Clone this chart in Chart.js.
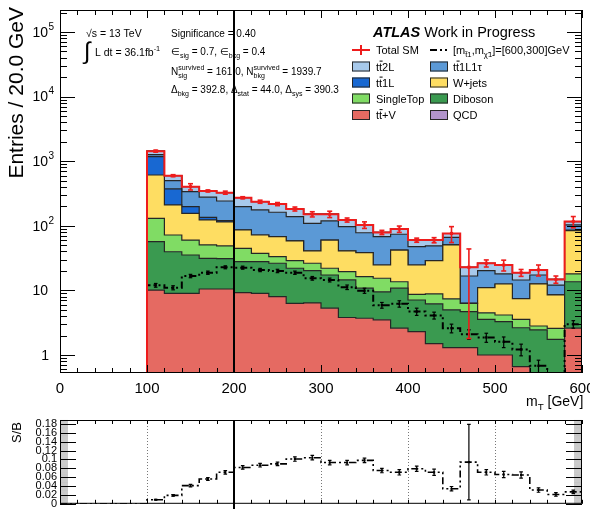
<!DOCTYPE html>
<html>
<head>
<meta charset="utf-8">
<title>mT stack</title>
<script src="https://cdn.jsdelivr.net/npm/chart.js@4.4.1/dist/chart.umd.min.js"></script>
<style>
body { margin: 0; background: #ffffff; }
#wrap { position: relative; width: 590px; height: 509px; overflow: hidden; }
#wrap canvas { position: absolute; left: 0; }
</style>
</head>
<body>
<div id="wrap">
<canvas id="mainChart" width="590" height="410" style="top:0px"></canvas>
<canvas id="ratioChart" width="590" height="99" style="top:410px"></canvas>
</div>
<script>
// bin edges of the filled region, 20 GeV bins
var binEdges = [100, 120, 140, 160, 180, 200, 220, 240, 260, 280, 300, 320, 340, 360, 380, 400, 420, 440, 460, 480, 500, 520, 540, 560, 580, 600];

// backgrounds, entries per bin
var ttV       = [10.1, 9.0, 9.0, 10.5, 10.5, 9.2, 9.0, 8.0, 6.3, 6.4, 5.3, 3.8, 3.7, 3.5, 2.6, 2.3, 1.5, 1.3, 1.3, 1.0, 1.0, 0.66, 0.4, 0.3, 2.6];
var diboson   = [46.6, 30.6, 26.3, 20.9, 20.5, 18.6, 18.8, 18.3, 15.7, 13.8, 12.0, 10.7, 7.1, 6.0, 8.2, 4.8, 4.7, 3.7, 3.4, 2.55, 2.28, 1.98, 2.04, 1.45, 11.0];
var singleTop = [73.3, 32.4, 24.7, 19.1, 17.7, 17.0, 9.7, 6.9, 6.8, 6.1, 4.7, 5.0, 5.5, 5.9, 2.8, 1.6, 2.6, 2.4, 1.6, 0.95, 0.88, 0.93, 0.37, 0.84, 4.4];
var wjets     = [481, 138, 96, 72.5, 65.9, 41.2, 34.5, 34.8, 29.4, 14.7, 38, 21.5, 22.1, 9.3, 28.4, 16.0, 20.0, 43.1, 0, 6.5, 8.4, 3.9, 9.8, 5.9, 66];
var tt1L      = [563, 162, 42, 12, 5.4, 0.8, 0, 0, 0, 0, 0, 0, 0, 0, 0, 0, 0, 0, 0, 0, 0, 0, 0, 0, 1.5];
var tt1L1tau  = [88, 128, 139, 142, 122, 111, 104, 94, 80, 68, 59, 56, 39.6, 43.3, 32, 22.8, 20.2, 15.5, 10.4, 9.2, 5.4, 7.0, 4.7, 3.6, 17.5];
var tt2L      = [168, 97, 66, 69, 84, 74, 60, 55, 44, 42, 32, 26, 25, 11, 15, 12.5, 11, 10, 6.1, 6.1, 6.7, 4.3, 3.4, 2.7, 13];
var qcd       = [0, 0, 0, 0, 0, 0, 0, 0, 0, 0, 0, 0, 0, 0, 0, 0, 0, 0, 0, 0, 0, 0, 0, 0, 0];
var totalErr  = [51, 21, 45, 12, 18, 10, 13, 12, 13, 14, 17, 9, 12, 6, 10, 4.4, 5.5, 21, 21, 3.3, 4.7, 2.3, 4, 1.9, 23];

// signal [600,300]
var signal    = [12, 11, 16.7, 18.8, 22.8, 22.5, 20.7, 20, 18.8, 15.4, 14.5, 11.2, 9.9, 5.9, 6.2, 4.7, 4.1, 2.6, 2.1, 1.87, 1.6, 1.22, 0.68, 0.3, 3.0];
var signalErr = [0.8, 0.8, 1.0, 1.1, 1.2, 1.2, 1.2, 1.2, 1.1, 1.0, 1.0, 0.9, 0.9, 0.6, 0.7, 0.6, 0.5, 0.4, 0.35, 0.3, 0.3, 0.25, 0.15, 0.1, 0.4];

// S/B panel, full range 0-600
var ratioEdges = [0, 20, 40, 60, 80, 100, 120, 140, 160, 180, 200, 220, 240, 260, 280, 300, 320, 340, 360, 380, 400, 420, 440, 460, 480, 500, 520, 540, 560, 580, 600];
var ratio    = [0, 0, 0, 0, 0, 0.009, 0.019, 0.041, 0.056, 0.071, 0.082, 0.087, 0.090, 0.101, 0.104, 0.093, 0.093, 0.098, 0.075, 0.071, 0.079, 0.071, 0.034, 0.094, 0.071, 0.066, 0.065, 0.031, 0.021, 0.027];
var ratioErr = [0, 0, 0, 0, 0, 0.001, 0.002, 0.003, 0.003, 0.004, 0.004, 0.004, 0.004, 0.005, 0.005, 0.005, 0.005, 0.005, 0.005, 0.006, 0.006, 0.007, 0.005, 0.085, 0.006, 0.007, 0.007, 0.005, 0.004, 0.004];

// axes
var xTickLabels = [0, 100, 200, 300, 400, 500, 600];
var yTickPowers = [0, 1, 2, 3, 4, 5];
var ratioTickLabels = ['0', '0.02', '0.04', '0.06', '0.08', '0.1', '0.12', '0.14', '0.16', '0.18'];
var ratioGridX = [100, 300, 400, 500];
var cutValue = 200;
var yMin = 0.526, yMax = 2.19e5;
var ratioMax = 0.189;

var legendLabels = [['Total SM', 'signal'], ['tt\u03042L', 'tt\u03041L1\u03c4'], ['tt\u03041L', 'W+jets'], ['SingleTop', 'Diboson'], ['tt\u0304+V', 'QCD']];

var stackLayers = [ttV, diboson, singleTop, wjets, tt1L, tt1L1tau, tt2L, qcd];
var stackColors = ['#e56a62', '#3a9a50', '#80dc64', '#fedd62', '#1868d2', '#5b99d6', '#a7c9eb', '#b294cc'];
var legendColors = [[null, null], ['#a7c9eb', '#5b99d6'], ['#1868d2', '#fedd62'], ['#80dc64', '#3a9a50'], ['#e56a62', '#b294cc']];

var FONT = "'Liberation Sans', Arial, Helvetica, sans-serif";
function fnt(size, style) { return (style ? style + ' ' : '') + size + 'px ' + FONT; }

function histPoints(edges, vals, floor) {
    var pts = [];
    if (floor !== undefined) pts.push({x: edges[0], y: floor});
    for (var i = 0; i < vals.length; i++) {
        pts.push({x: edges[i], y: vals[i]});
        pts.push({x: edges[i + 1], y: vals[i]});
    }
    if (floor !== undefined) pts.push({x: edges[edges.length - 1], y: floor});
    return pts;
}

function errorPoints(edges, vals, errs, first, floor) {
    var pts = [];
    for (var i = first; i < vals.length; i++) {
        var c = (edges[i] + edges[i + 1]) / 2;
        var lo = vals[i] - errs[i];
        if (lo < floor) lo = floor;
        pts.push({x: c, y: lo}, {x: c, y: vals[i] + errs[i]}, {x: c, y: NaN});
    }
    return pts;
}

function centerPoints(edges, vals, first) {
    var pts = [];
    for (var i = first; i < vals.length; i++) {
        pts.push({x: (edges[i] + edges[i + 1]) / 2, y: vals[i]});
    }
    return pts;
}

// cumulative stack, bottom to top
var cumul = [];
var run = binEdges.slice(1).map(function() { return 0; });
stackLayers.forEach(function(arr) {
    run = run.map(function(v, i) { return v + arr[i]; });
    cumul.push(run);
});
var totalSM = cumul[cumul.length - 1];

var mainSets = [];
cumul.forEach(function(c, k) {
    mainSets.push({
        data: histPoints(binEdges, c, 1e-3),
        backgroundColor: stackColors[k],
        borderColor: '#262626',
        borderWidth: 1.2,
        fill: k === 0 ? 'start' : '-1',
        pointRadius: 0,
        order: 10
    });
});
var sigDash = [7, 3, 2, 3, 2, 3];
mainSets.push({
    data: histPoints(binEdges, signal, 1e-3),
    borderColor: '#000', borderWidth: 2, borderDash: sigDash,
    fill: false, pointRadius: 0, order: 2
});
mainSets.push({
    data: errorPoints(binEdges, signal, signalErr, 0, 1e-3),
    borderColor: '#000', borderWidth: 1.2, fill: false,
    pointStyle: 'line', pointRadius: 1.8, pointBorderColor: '#000', pointBorderWidth: 1.2, order: 2
});
mainSets.push({
    data: centerPoints(binEdges, signal, 0),
    showLine: false, pointStyle: 'rect', pointRadius: 1.7,
    pointBackgroundColor: '#000', pointBorderColor: '#000', pointBorderWidth: 0, order: 2
});
mainSets.push({
    data: histPoints(binEdges, totalSM, 1e-3),
    borderColor: '#ee1c1c', borderWidth: 2, fill: false, pointRadius: 0, order: 0
});
mainSets.push({
    data: errorPoints(binEdges, totalSM, totalErr, 0, 1e-3),
    borderColor: '#ee1c1c', borderWidth: 1.6, fill: false,
    pointStyle: 'line', pointRadius: 2.5, pointBorderColor: '#ee1c1c', pointBorderWidth: 1.6, order: 0
});
mainSets.push({
    data: centerPoints(binEdges, totalSM, 0),
    showLine: false, pointStyle: 'rect', pointRadius: 2.2,
    pointBackgroundColor: '#ee1c1c', pointBorderColor: '#ee1c1c', pointBorderWidth: 0, order: 0
});

// text with sub/superscripts, pieces: [text, mode] mode '' | 'sub' | 'sup' | 'ss' (text = [sub, sup])
function drawPieces(ctx, x, y, pieces, size) {
    var small = size * 0.7;
    var cx = x;
    ctx.textAlign = 'left';
    ctx.textBaseline = 'alphabetic';
    pieces.forEach(function(p) {
        var t = p[0], m = p[1];
        if (m === 'ss') {
            ctx.font = fnt(small);
            ctx.fillText(t[1], cx, y - size * 0.5);
            ctx.fillText(t[0], cx, y + size * 0.3);
            cx += Math.max(ctx.measureText(t[0]).width, ctx.measureText(t[1]).width);
        } else if (m === 'sub') {
            ctx.font = fnt(small);
            ctx.fillText(t, cx, y + size * 0.3);
            cx += ctx.measureText(t).width;
        } else if (m === 'sup') {
            ctx.font = fnt(small);
            ctx.fillText(t, cx, y - size * 0.45);
            cx += ctx.measureText(t).width;
        } else {
            ctx.font = fnt(size);
            ctx.fillText(t, cx, y);
            cx += ctx.measureText(t).width;
        }
    });
    return cx;
}

function drawLabel(ctx, x, y, label, size) {
    ctx.font = fnt(size);
    ctx.textAlign = 'left';
    ctx.textBaseline = 'alphabetic';
    if (label.indexOf('tt\u0304') === 0) {
        var w = ctx.measureText('t').width;
        ctx.fillText('t', x, y);
        ctx.fillText('t', x + w, y);
        ctx.fillRect(x + w + 0.5, y - size * 0.9, w, 1);
        ctx.fillText(label.slice(3), x + 2 * w, y);
    } else {
        ctx.fillText(label, x, y);
    }
}

var mainDecor = {
    id: 'mainDecor',
    afterDatasetsDraw: function(chart) {
        var ctx = chart.ctx, a = chart.chartArea;
        var xs = chart.scales.x, ys = chart.scales.y;
        ctx.save();
        ctx.fillStyle = '#000';
        ctx.strokeStyle = '#000';

        // selection cut
        var xc = xs.getPixelForValue(cutValue);
        ctx.lineWidth = 2;
        ctx.beginPath(); ctx.moveTo(xc, a.top); ctx.lineTo(xc, a.bottom); ctx.stroke();

        // frame and ticks
        ctx.lineWidth = 1;
        ctx.strokeRect(a.left + 0.5, a.top + 0.5, a.right - a.left - 1, a.bottom - a.top - 1);
        ctx.beginPath();
        for (var v = 0; v <= 600; v += 20) {
            var px = Math.round(xs.getPixelForValue(v)) + 0.5;
            var len = (v % 100 === 0) ? 8 : 5;
            ctx.moveTo(px, a.bottom); ctx.lineTo(px, a.bottom - len);
            ctx.moveTo(px, a.top); ctx.lineTo(px, a.top + len);
        }
        for (var d = -1; d <= 5; d++) {
            for (var m = 1; m <= 9; m++) {
                var val = m * Math.pow(10, d);
                if (val < yMin || val > yMax) continue;
                var py = Math.round(ys.getPixelForValue(val)) + 0.5;
                var l2 = (m === 1) ? 15 : 7;
                ctx.moveTo(a.left, py); ctx.lineTo(a.left + l2, py);
                ctx.moveTo(a.right, py); ctx.lineTo(a.right - l2, py);
            }
        }
        ctx.stroke();

        // tick labels
        ctx.font = fnt(15);
        ctx.textAlign = 'center';
        ctx.textBaseline = 'alphabetic';
        xTickLabels.forEach(function(t) {
            ctx.fillText(String(t), xs.getPixelForValue(t), a.bottom + 19.5);
        });
        yTickPowers.forEach(function(p) {
            var py = ys.getPixelForValue(Math.pow(10, p));
            ctx.font = fnt(14);
            ctx.textAlign = 'right';
            ctx.textBaseline = 'middle';
            if (p === 0) {
                ctx.fillText('1', 49, py + 1);
            } else {
                ctx.fillText('10', 48, py + 1);
                if (p > 1) {
                    ctx.font = fnt(10);
                    ctx.textAlign = 'left';
                    ctx.fillText(String(p), 48.5, py - 5);
                }
            }
        });

        // axis titles
        drawPieces(ctx, 526, 406, [['m', ''], ['T', 'sub'], [' [GeV]', '']], 14);
        ctx.save();
        ctx.translate(17, 7);
        ctx.rotate(-Math.PI / 2);
        ctx.font = fnt(21);
        ctx.textAlign = 'right';
        ctx.textBaseline = 'middle';
        ctx.fillText('Entries / 20.0 GeV', 0, 0);
        ctx.restore();

        // info text
        drawPieces(ctx, 86, 37, [['\u221as = 13 TeV', '']], 10.5);
        ctx.font = fnt(24);
        ctx.textAlign = 'left';
        ctx.textBaseline = 'alphabetic';
        ctx.fillText('\u222b', 84, 59);
        drawPieces(ctx, 95, 56, [['L dt = 36.1fb', ''], ['-1', 'sup']], 10.5);
        drawPieces(ctx, 171, 37, [['Significance = 0.40', '']], 10);
        drawPieces(ctx, 171, 55, [['\u2208', ''], ['sig', 'sub'], [' = 0.7, \u2208', ''], ['bkg', 'sub'], [' = 0.4', '']], 10);
        drawPieces(ctx, 171, 75, [['N', ''], [['sig', 'survived'], 'ss'], [' = 161.0, N', ''], [['bkg', 'survived'], 'ss'], [' = 1939.7', '']], 10);
        drawPieces(ctx, 171, 93, [['\u0394', ''], ['bkg', 'sub'], [' = 392.8, \u0394', ''], ['stat', 'sub'], [' = 44.0, \u0394', ''], ['sys', 'sub'], [' = 390.3', '']], 10);

        // ATLAS label
        ctx.font = fnt(14.5, 'italic bold');
        ctx.textAlign = 'left';
        ctx.fillText('ATLAS', 373, 37);
        var wA = ctx.measureText('ATLAS').width;
        ctx.font = fnt(14.5);
        ctx.fillText('Work in Progress', 373 + wA + 4, 37);

        // legend
        var rowY = [50, 66.5, 82.5, 98.5, 115];
        var boxX = [352, 430], textX = [376, 453];
        for (var r = 0; r < legendLabels.length; r++) {
            for (var c = 0; c < 2; c++) {
                var y = rowY[r], bx = boxX[c];
                if (r === 0 && c === 0) {
                    ctx.strokeStyle = '#ee1c1c';
                    ctx.lineWidth = 2;
                    ctx.beginPath();
                    ctx.moveTo(bx, y); ctx.lineTo(bx + 18, y);
                    ctx.moveTo(bx + 9, y - 5); ctx.lineTo(bx + 9, y + 5);
                    ctx.stroke();
                } else if (r === 0 && c === 1) {
                    ctx.strokeStyle = '#000';
                    ctx.lineWidth = 2;
                    ctx.setLineDash(sigDash);
                    ctx.beginPath();
                    ctx.moveTo(bx, y); ctx.lineTo(bx + 18, y);
                    ctx.stroke();
                    ctx.setLineDash([]);
                } else {
                    ctx.fillStyle = legendColors[r][c];
                    ctx.fillRect(bx, y - 5, 18, 10);
                    ctx.strokeStyle = '#262626';
                    ctx.lineWidth = 1;
                    ctx.strokeRect(bx + 0.5, y - 4.5, 17, 9);
                }
                ctx.fillStyle = '#000';
                if (r === 0 && c === 1) {
                    drawPieces(ctx, textX[c], y + 4, [['[m', ''], ['t\u03031', 'sub'], [',m', ''], ['\u03c7\u03031', 'sub'], [']=[600,300]GeV', '']], 11);
                } else {
                    drawLabel(ctx, textX[c], y + 4, legendLabels[r][c], 11);
                }
            }
        }
        ctx.restore();
    }
};

new Chart(document.getElementById('mainChart'), {
    type: 'line',
    data: { datasets: mainSets },
    options: {
        responsive: false,
        animation: false,
        devicePixelRatio: 1,
        layout: { padding: { left: 60, right: 8, top: 10, bottom: 37 } },
        plugins: { legend: { display: false }, tooltip: { enabled: false } },
        scales: {
            x: { type: 'linear', min: 0, max: 600, display: false },
            y: { type: 'logarithmic', min: yMin, max: yMax, display: false }
        }
    },
    plugins: [mainDecor]
});

// ratio panel
var ratioSets = [
    {
        data: histPoints(ratioEdges, ratio),
        borderColor: '#000', borderWidth: 1.6, borderDash: sigDash,
        fill: false, pointRadius: 0, order: 1
    },
    {
        data: errorPoints(ratioEdges, ratio, ratioErr, 5, 0),
        borderColor: '#000', borderWidth: 1.2, fill: false,
        pointStyle: 'line', pointRadius: 1.8, pointBorderColor: '#000', pointBorderWidth: 1.2, order: 0
    },
    {
        data: centerPoints(ratioEdges, ratio, 5),
        showLine: false, pointStyle: 'rect', pointRadius: 1.5,
        pointBackgroundColor: '#000', pointBorderColor: '#000', pointBorderWidth: 0, order: 0
    }
];

var ratioDecor = {
    id: 'ratioDecor',
    beforeDatasetsDraw: function(chart) {
        var ctx = chart.ctx, a = chart.chartArea, xs = chart.scales.x;
        ctx.save();
        ctx.strokeStyle = '#777';
        ctx.lineWidth = 1;
        ctx.setLineDash([1, 2]);
        ctx.beginPath();
        ratioGridX.forEach(function(v) {
            var px = Math.round(xs.getPixelForValue(v)) + 0.5;
            ctx.moveTo(px, a.top); ctx.lineTo(px, a.bottom);
        });
        ctx.stroke();
        ctx.restore();
    },
    afterDatasetsDraw: function(chart) {
        var ctx = chart.ctx, a = chart.chartArea;
        var xs = chart.scales.x, ys = chart.scales.y;
        ctx.save();
        ctx.strokeStyle = '#000';
        ctx.fillStyle = '#000';

        var xc = xs.getPixelForValue(cutValue);
        ctx.lineWidth = 2;
        ctx.beginPath(); ctx.moveTo(xc, a.top); ctx.lineTo(xc, chart.height); ctx.stroke();

        ctx.lineWidth = 1;
        ctx.strokeRect(a.left + 0.5, a.top + 0.5, a.right - a.left - 1, a.bottom - a.top - 1);
        ctx.beginPath();
        for (var v = 0; v <= 600; v += 20) {
            var px = Math.round(xs.getPixelForValue(v)) + 0.5;
            ctx.moveTo(px, a.bottom); ctx.lineTo(px, a.bottom - 4);
            ctx.moveTo(px, a.top); ctx.lineTo(px, a.top + 4);
        }
        for (var k = 0; k <= 9; k++) {
            var py = Math.round(ys.getPixelForValue(k * 0.02)) + 0.5;
            ctx.moveTo(a.left, py); ctx.lineTo(a.left + 16, py);
            ctx.moveTo(a.right, py); ctx.lineTo(a.right - 16, py);
        }
        ctx.stroke();
        ctx.strokeStyle = 'rgba(0,0,0,0.2)';
        ctx.beginPath();
        for (var s = 0; s <= 94; s++) {
            var val = s * 0.002;
            if (val > ratioMax) break;
            var py2 = ys.getPixelForValue(val);
            ctx.moveTo(a.left, py2); ctx.lineTo(a.left + 8, py2);
            ctx.moveTo(a.right, py2); ctx.lineTo(a.right - 8, py2);
        }
        ctx.stroke();

        ctx.font = fnt(11);
        ctx.textAlign = 'right';
        ctx.textBaseline = 'middle';
        ratioTickLabels.forEach(function(t, i) {
            ctx.fillText(t, 57, ys.getPixelForValue(i * 0.02));
        });

        ctx.translate(17, 12);
        ctx.rotate(-Math.PI / 2);
        ctx.font = fnt(13);
        ctx.textAlign = 'right';
        ctx.fillText('S/B', 0, 0);
        ctx.restore();
    }
};

new Chart(document.getElementById('ratioChart'), {
    type: 'line',
    data: { datasets: ratioSets },
    options: {
        responsive: false,
        animation: false,
        devicePixelRatio: 1,
        layout: { padding: { left: 60, right: 8, top: 10, bottom: 4 } },
        plugins: { legend: { display: false }, tooltip: { enabled: false } },
        scales: {
            x: { type: 'linear', min: 0, max: 600, display: false },
            y: { type: 'linear', min: 0, max: ratioMax, display: false }
        }
    },
    plugins: [ratioDecor]
});
</script>
</body>
</html>
